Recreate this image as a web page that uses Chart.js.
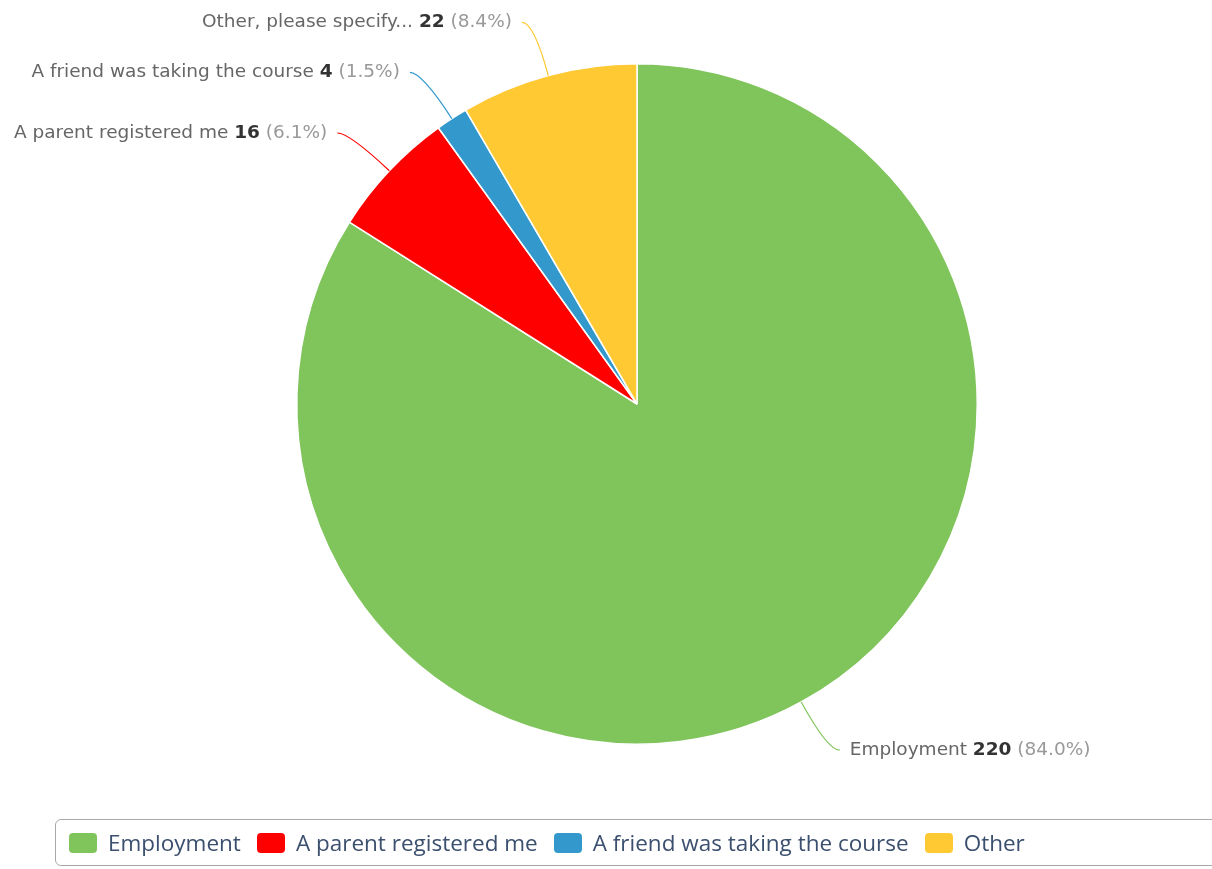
<!DOCTYPE html>
<html>
<head>
<meta charset="utf-8">
<script src="https://cdn.jsdelivr.net/npm/chart.js@4.4.1/dist/chart.umd.min.js"></script>
<style>
    body { margin: 0; background: #fff; }
    #wrap { position: relative; width: 1212px; height: 869px; overflow: hidden; }
    #legend {
        position: absolute; left: 55px; top: 819px; width: 1180px; height: 47px;
        border: 1px solid #a8a8a8; border-radius: 6px; box-sizing: border-box;
        display: flex; align-items: center; padding-left: 13px;
        font-family: "Open Sans", sans-serif; font-size: 22.5px; color: #3b4f6e;
    }
    #legend .item { display: flex; align-items: center; margin-right: 16px; white-space: nowrap; }
    #legend .box { width: 28px; height: 20px; border-radius: 4px; margin-right: 11px; }
</style>
</head>
<body>
<div id="wrap">
    <canvas id="pieChart" width="1212" height="869"></canvas>
    <div id="legend"></div>
</div>
<script>
// Daten
const labels = ['Employment', 'A parent registered me', 'A friend was taking the course', 'Other, please specify...'];
const legendLabels = ['Employment', 'A parent registered me', 'A friend was taking the course', 'Other'];
const counts = [220, 16, 4, 22];
const percents = ['84.0%', '6.1%', '1.5%', '8.4%'];
const colors = ['#80c45c', '#ff0000', '#3399cc', '#ffc933'];

const labelFont = '18.5px "DejaVu Sans", sans-serif';
const labelFontBold = 'bold 18.5px "DejaVu Sans", sans-serif';

// Beschriftungen mit Verbindungslinien
const sliceLabels = {
    id: 'sliceLabels',
    afterDatasetsDraw(chart) {
        const ctx = chart.ctx;
        const arcs = chart.getDatasetMeta(0).data;
        ctx.save();
        ctx.textBaseline = 'middle';
        arcs.forEach((arc, i) => {
            const mid = (arc.startAngle + arc.endAngle) / 2;
            const dx = Math.cos(mid), dy = Math.sin(mid);
            const r = arc.outerRadius;
            const sx = arc.x + dx * r, sy = arc.y + dy * r;
            const ax = arc.x + dx * (r + 55), ay = arc.y + dy * (r + 55);
            const right = dx >= 0;
            const ex = ax + (right ? 12 : -12);

            ctx.strokeStyle = colors[i];
            ctx.lineWidth = 1.2;
            ctx.beginPath();
            ctx.moveTo(sx, sy);
            ctx.quadraticCurveTo(ax, ay, ex, ay);
            ctx.stroke();

            const parts = [
                { t: labels[i] + ' ', c: '#666666', f: labelFont },
                { t: String(counts[i]), c: '#333333', f: labelFontBold },
                { t: ' (' + percents[i] + ')', c: '#999999', f: labelFont }
            ];
            let total = 0;
            parts.forEach(p => { ctx.font = p.f; p.w = ctx.measureText(p.t).width; total += p.w; });
            let x = right ? ex + 10 : ex - 10 - total;
            ctx.textAlign = 'left';
            parts.forEach(p => {
                ctx.font = p.f;
                ctx.fillStyle = p.c;
                ctx.fillText(p.t, x, ay);
                x += p.w;
            });
        });
        ctx.restore();
    }
};

new Chart(document.getElementById('pieChart'), {
    type: 'pie',
    data: {
        labels: labels,
        datasets: [{
            data: counts,
            backgroundColor: colors,
            borderColor: '#ffffff',
            borderWidth: 1.5
        }]
    },
    options: {
        responsive: false,
        animation: false,
        layout: { padding: { top: 63, bottom: 124, left: 296, right: 234 } },
        plugins: {
            legend: { display: false },
            tooltip: { enabled: false }
        }
    },
    plugins: [sliceLabels]
});

// HTML-Legende
const legendEl = document.getElementById('legend');
legendLabels.forEach((name, i) => {
    const item = document.createElement('div');
    item.className = 'item';
    const box = document.createElement('span');
    box.className = 'box';
    box.style.background = colors[i];
    const txt = document.createElement('span');
    txt.textContent = name;
    item.appendChild(box);
    item.appendChild(txt);
    legendEl.appendChild(item);
});
</script>
</body>
</html>
